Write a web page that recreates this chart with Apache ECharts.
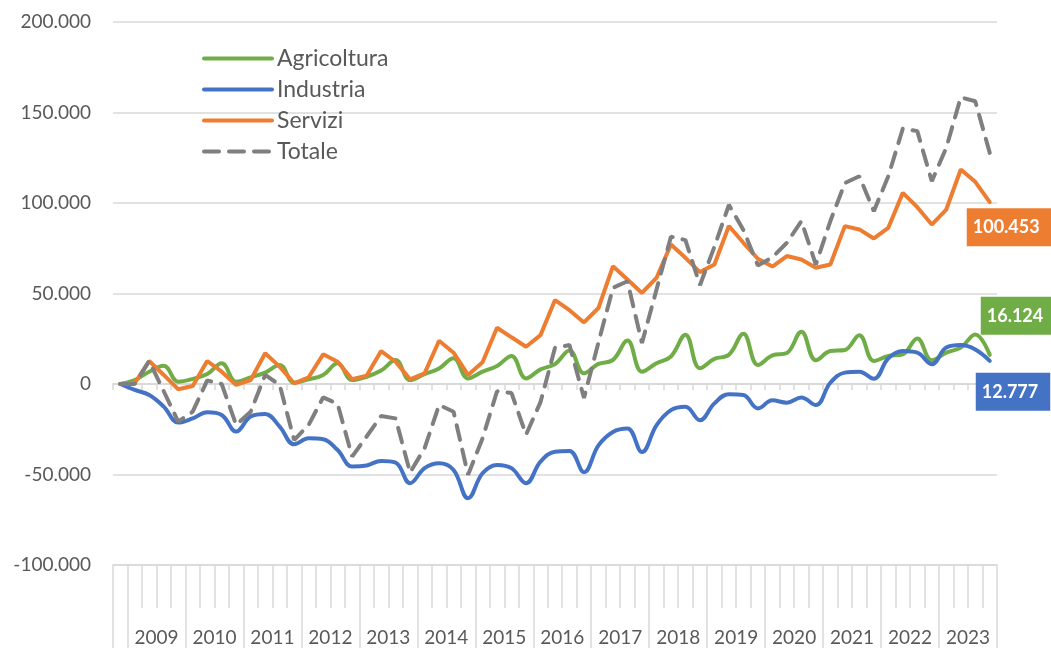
<!DOCTYPE html>
<html>
<head>
<meta charset="utf-8">
<title>Occupati per settore</title>
<script src="https://cdn.jsdelivr.net/npm/echarts@6/dist/echarts.min.js"></script>
<style>
    html, body { margin: 0; padding: 0; background: #fff; }
    #chart { width: 1051px; height: 648px; }
</style>
</head>
<body>
<div id="chart"></div>
<script>
// anni sull'asse (ogni anno = 4 trimestri, piu' il trimestre iniziale 2008 T4)
var years = ['2009', '2010', '2011', '2012', '2013', '2014', '2015', '2016',
    '2017', '2018', '2019', '2020', '2021', '2022', '2023'];

var agricoltura = [0,
    2200, 6800, 10100, 1300, 2800, 5500, 11400, 1300, 3700, 6300, 10500, 700,
    2600, 5000, 11400, 2200, 4000, 7400, 13200, 2200, 5500, 8600, 14200, 3100,
    6800, 9900, 15500, 3100, 8100, 11000, 18500, 5900, 11100, 13300, 24000, 6800,
    11500, 15200, 27200, 8700, 13900, 16100, 27700, 10500, 15800, 17100, 28900, 13100,
    18200, 18800, 27000, 12700, 15500, 16400, 25200, 13100, 17300, 20100, 27400, 16124];

var industria = [0,
    -3300, -6100, -12500, -21300, -19000, -15600, -17100, -26300, -18000, -16600, -23500, -33300,
    -30000, -30500, -36500, -45600, -45000, -42500, -43400, -54800, -46500, -43800, -47500, -63100,
    -49300, -44700, -46500, -54800, -42900, -37400, -37000, -48700, -33900, -26500, -24600, -37600,
    -22800, -14400, -12600, -20000, -10700, -5600, -6100, -13500, -9000, -10300, -7500, -11600,
    700, 6300, 6800, 2900, 14200, 18200, 17300, 10900, 20100, 21500, 19100, 12777];

var servizi = [0,
    500, 12700, 5000, -2900, -1100, 12700, 6800, -500, 2200, 17000, 9600, 400,
    3700, 16400, 12300, 2600, 4600, 18200, 12300, 2600, 5900, 23900, 17300, 5000,
    12000, 31100, 25800, 20600, 27000, 46400, 40800, 34000, 42000, 65100, 57700, 50300,
    58600, 77100, 69700, 61800, 66000, 87300, 78000, 69200, 64900, 70700, 68800, 64200,
    66000, 87200, 85400, 80400, 86300, 105600, 97700, 88100, 96400, 118500, 111700, 100453];

var totale = [0,
    0, 12700, -4000, -20800, -15300, 2000, 0, -22600, -15300, 5000, -500, -31000,
    -22600, -7400, -11000, -40100, -29000, -17700, -19000, -48900, -35500, -11600, -15300, -50200,
    -30000, -4000, -5000, -28000, -10000, 20000, 21500, -7700, 23000, 53100, 56800, 22600,
    52000, 81400, 79500, 54600, 75800, 99000, 85000, 65500, 70000, 78000, 90000, 66000,
    90000, 111000, 114800, 95500, 114800, 141100, 139700, 112000, 130500, 158400, 156200, 127700];

var yTicks = [-100000, -50000, 0, 50000, 100000, 150000, 200000];

var FONT = 'Lato, "Noto Sans", sans-serif';
var GRID_COLOR = '#d9d9d9';
var TEXT_COLOR = '#595959';

// formato italiano: punto come separatore delle migliaia
function fmt(v) {
    var s = String(Math.abs(Math.round(v))).replace(/\B(?=(\d{3})+(?!\d))/g, '.');
    return (v < 0 ? '-' : '') + s;
}

// un'etichetta per trimestre (2008 T4 + 4 per anno)
var quarters = ['2008-4'];
years.forEach(function(y) {
    for (var q = 1; q <= 4; q++) quarters.push(y + '-' + q);
});

// asse a mezzi trimestri: serve a centrare l'anno tra due separatori
var halfSlots = [];
for (var j = 0; j <= quarters.length * 2; j++) {
    var k = (j - 6) / 8;
    halfSlots.push(j >= 6 && k === Math.floor(k) && years[k] ? years[k] : '');
}

function lineSeries(name, data, color, opts) {
    var s = {
        name: name,
        type: 'line',
        data: data,
        symbol: 'none',
        smooth: opts.smooth || false,
        color: color,
        lineStyle: { width: 4, color: color, type: opts.dash || 'solid', cap: 'round' },
        z: opts.z || 2
    };
    if (opts.offset) {
        s.endLabel = {
            show: true,
            distance: 0,
            offset: opts.offset,
            formatter: function(p) { return fmt(p.value); },
            color: '#fff',
            fontFamily: FONT,
            fontWeight: 'bold',
            fontSize: 18,
            backgroundColor: color,
            padding: [10, 12, 10, 6]
        };
    }
    return s;
}

var chart = echarts.init(document.getElementById('chart'), null, { renderer: 'canvas' });

chart.setOption({
    animation: false,
    backgroundColor: '#fff',
    grid: { left: 113, right: 54, top: 22, bottom: 83, containLabel: false },
    legend: {
        orient: 'vertical',
        left: 197,
        top: 42,
        itemWidth: 68,
        itemHeight: 20,
        itemGap: 8,
        itemStyle: { opacity: 0 },
        lineStyle: { width: 4 },
        textStyle: { fontFamily: FONT, fontSize: 23, color: TEXT_COLOR, lineHeight: 20 },
        data: ['Agricoltura', 'Industria', 'Servizi', 'Totale']
    },
    xAxis: [{
        // asse dei dati, passa per lo zero
        type: 'category',
        data: quarters,
        boundaryGap: true,
        axisLine: { onZero: true, lineStyle: { color: GRID_COLOR, width: 2 } },
        axisTick: { show: true, length: 6, interval: 0, lineStyle: { color: GRID_COLOR, width: 1.5 } },
        axisLabel: { show: false },
        splitLine: { show: false }
    }, {
        // tacche dei trimestri in basso
        type: 'category',
        data: quarters,
        position: 'bottom',
        boundaryGap: true,
        axisLine: { show: false, onZero: false },
        axisTick: { show: true, length: 43, interval: 0, lineStyle: { color: GRID_COLOR, width: 1.5 } },
        axisLabel: { show: false }
    }, {
        // separatori degli anni ed etichette
        type: 'category',
        data: halfSlots,
        position: 'bottom',
        boundaryGap: false,
        axisLine: { show: true, onZero: false, lineStyle: { color: GRID_COLOR, width: 1.5 } },
        axisTick: {
            show: true,
            length: 83,
            interval: function(idx) { return idx === 0 || (idx - 2) % 8 === 0; },
            lineStyle: { color: GRID_COLOR, width: 1.5 }
        },
        axisLabel: {
            show: true,
            interval: function(idx, val) { return val !== ''; },
            margin: 63,
            fontFamily: FONT,
            fontSize: 19,
            color: TEXT_COLOR
        }
    }],
    yAxis: {
        type: 'value',
        min: yTicks[0],
        max: yTicks[yTicks.length - 1],
        interval: 50000,
        axisLine: { show: false },
        axisTick: { show: false },
        axisLabel: {
            margin: 22,
            fontFamily: FONT,
            fontSize: 19,
            color: TEXT_COLOR,
            formatter: fmt
        },
        splitLine: { lineStyle: { color: GRID_COLOR, width: 1.5 } }
    },
    series: [
        lineSeries('Agricoltura', agricoltura, '#70ad47', { smooth: 0.4, offset: [-9, -39], z: 3 }),
        lineSeries('Industria', industria, '#4472c4', { smooth: 0.4, offset: [-14, 31], z: 3 }),
        lineSeries('Servizi', servizi, '#ed7d31', { offset: [-23, 25], z: 3 }),
        lineSeries('Totale', totale, '#7f7f7f', { dash: [15, 10], z: 4 })
    ]
});
</script>
</body>
</html>
